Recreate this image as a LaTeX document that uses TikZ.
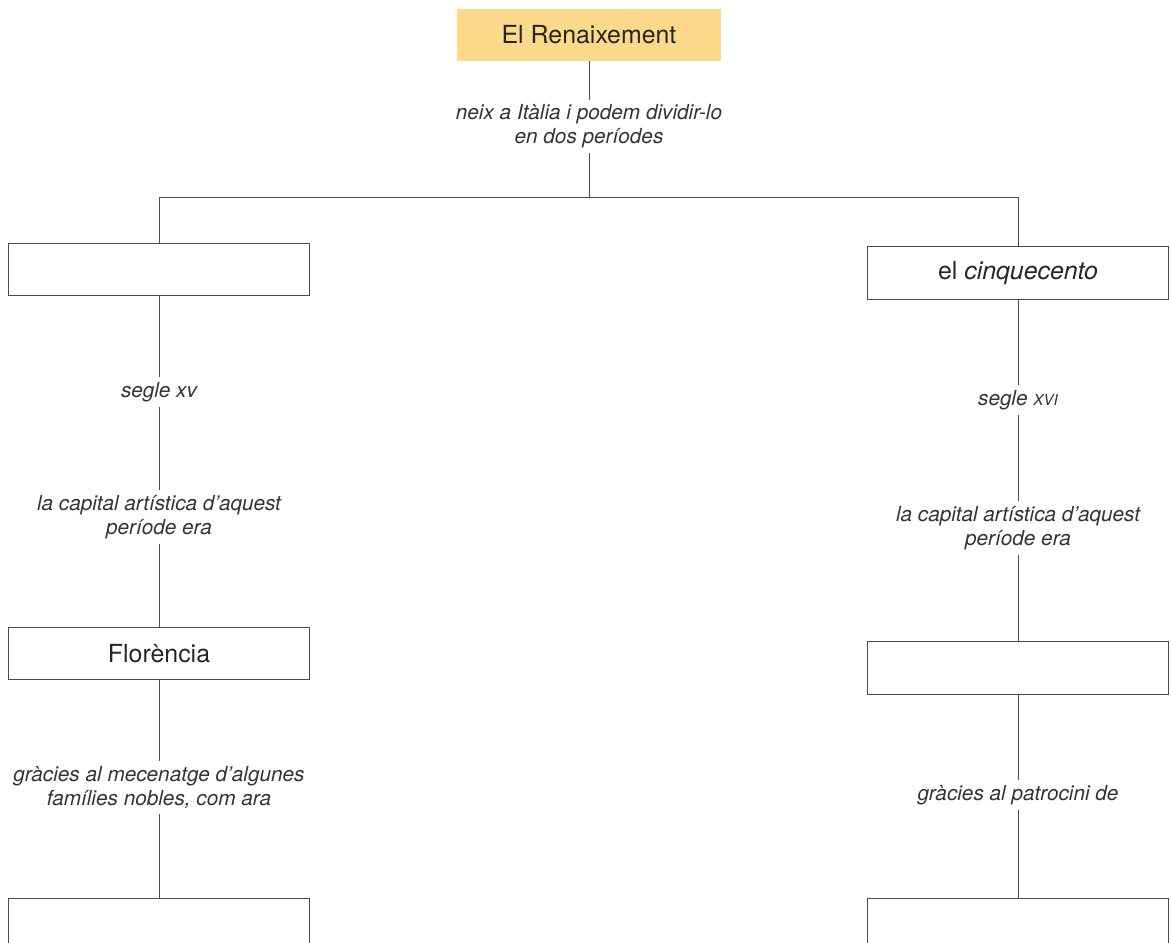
\documentclass[tikz,border=0pt]{standalone}
\usepackage{fontspec}
\setmainfont{TeX Gyre Heros}
\definecolor{renaix}{RGB}{253,217,140}
\definecolor{linegray}{RGB}{75,75,75}

\begin{document}
\begin{tikzpicture}[x=0.0254cm, y=-0.0254cm,
    box/.style={draw=linegray, line width=0.7pt, minimum width=217.4pt, minimum height=38.2pt,
        inner sep=0pt, text=black!85, font=\fontsize{18}{21}\selectfont},
    lbl/.style={align=center, inner xsep=2pt, inner ysep=3.5pt, text=black!80,
        font=\fontsize{15}{17.3}\selectfont\itshape},
    link/.style={draw=linegray, line width=0.7pt}]
    \useasboundingbox (0,0) rectangle (1171,942);
    \clip (0,0) rectangle (1171,942);

    % El Renaixement
    \node[box, fill=renaix, draw=none, minimum width=191.5pt, minimum height=37.4pt] (ren) at (589,35) {El Renaixement};
    \node[lbl] (neix) at (589,126.5) {neix a Itàlia i podem dividir-lo\\en dos períodes};
    \coordinate (split) at (589,197);

    % left branch
    \node[box] (quatre) at (159,269.5) {};
    \node[lbl] (segleA) at (159,392) {segle xv};
    \node[lbl] (capA) at (159,517) {la capital artística d’aquest\\període era};
    \node[box] (flor) at (159,653.5) {Florència};
    \node[lbl] (mece) at (159,787.5) {gràcies al mecenatge d’algunes\\famílies nobles, com ara};
    \node[box] (famA) at (159,924.5) {};

    % right branch
    \node[box] (cinque) at (1018,273) {el \textit{cinquecento}};
    \node[lbl] (segleB) at (1018,400) {segle {\fontsize{11}{12}\selectfont XVI}};
    \node[lbl] (capB) at (1018,528) {la capital artística d’aquest\\període era};
    \node[box] (ciutat) at (1018,668) {};
    \node[lbl] (patro) at (1018,795) {gràcies al patrocini de};
    \node[box] (famB) at (1018,924.5) {};

    % connectors
    \draw[link] (ren) -- (neix) -- (split);
    \draw[link] (split) -| (quatre);
    \draw[link] (split) -| (cinque);
    \draw[link] (quatre) -- (segleA) -- (capA) -- (flor) -- (mece) -- (famA);
    \draw[link] (cinque) -- (segleB) -- (capB) -- (ciutat) -- (patro) -- (famB);
\end{tikzpicture}
\end{document}
